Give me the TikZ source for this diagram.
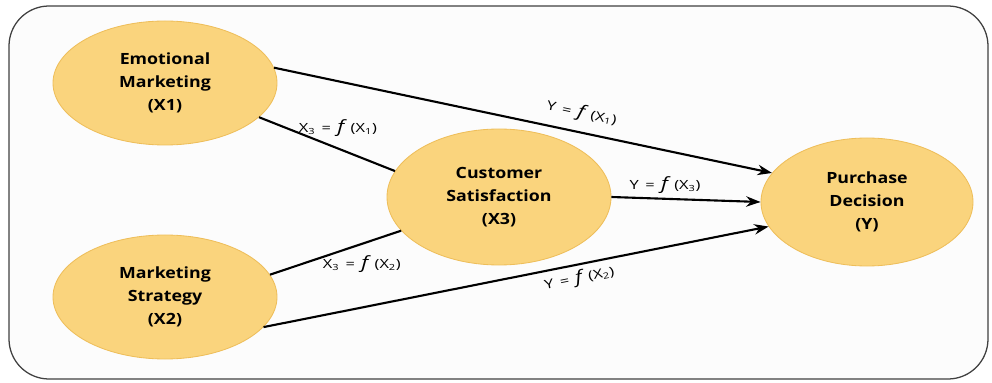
\documentclass[tikz,border=0pt]{standalone}
\usepackage{fontspec}
\setmainfont{Carlito}
\newfontfamily\varfont[FakeStretch=1.15]{Open Sans}
\newfontfamily\lblfont[FakeStretch=1.3]{Open Sans}
\usepackage{tikz}
\usetikzlibrary{shapes.geometric, arrows.meta}
\definecolor{varfill}{RGB}{250,212,125}
\definecolor{varline}{RGB}{238,190,90}
\newcommand{\fx}[2]{#1 \,=\, {\large\itshape f}\, (X\textsubscript{#2})}

\begin{document}
\begin{tikzpicture}[x=0.25mm, y=-0.25mm,
    var/.style = {ellipse, draw=varline, fill=varfill, line width=0.6pt, minimum width=56mm, minimum height=31mm, inner sep=0pt, align=center, font=\varfont\fontsize{11}{16.5}\selectfont\bfseries},
    link/.style = {line width=1.5pt},
    arr/.style = {link, -{Stealth[length=3.6mm, width=2.6mm]}},
    lbl/.style = {font=\lblfont\fontsize{9}{11}\selectfont, inner sep=2pt}]
    \useasboundingbox (0,0) rectangle (992,383);
    % 外框
    \draw[line width=0.9pt, draw=black!75, fill=black!1, rounded corners=10mm] (9,6) rectangle (988,379);

    % 变量
    \node[var] (x1) at (165,83) {Emotional\\Marketing\\(X1)};
    \node[var] (x2) at (165,297) {Marketing\\Strategy\\(X2)};
    \node[var, minimum height=34mm] (x3) at (499,197) {Customer\\Satisfaction\\(X3)};
    \node[var, minimum width=53mm, minimum height=32mm] (y) at (867,202) {Purchase\\Decision\\(Y)};

    % 路径
    \draw[arr] (x1.8) -- node[lbl, pos=0.61, above=5pt, sloped] {\fx{Y}{1}} (y.163);
    \draw[link] (x1.-20) -- node[lbl, pos=0.58, above=2mm] {\fx{X\textsubscript{3}}{1}} (x3.166);
    \draw[arr] (x3.east) -- node[lbl, pos=0.36, above=1pt] {\fx{Y}{3}} (y.west);
    \draw[link] (x2.12) -- node[lbl, pos=0.7, below=2mm] {\fx{X\textsubscript{3}}{2}} (x3.-161);
    \draw[arr] (x2.-17) -- node[lbl, pos=0.62, below=1pt, sloped] {\fx{Y}{2}} (y.-166);
\end{tikzpicture}
\end{document}
